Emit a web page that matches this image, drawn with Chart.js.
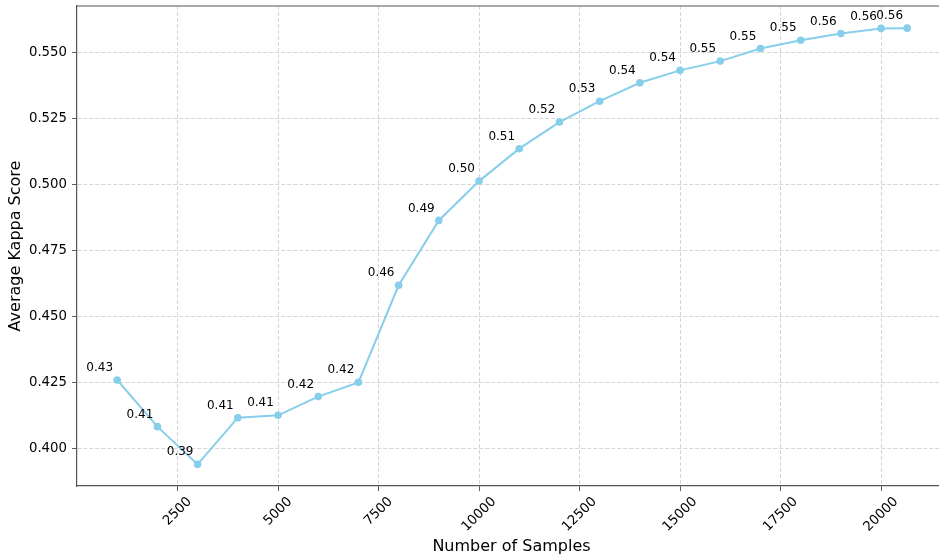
<!DOCTYPE html>
<html lang="en">
<head>
<meta charset="UTF-8">
<title>Kappa vs samples</title>
<script src="https://cdn.jsdelivr.net/npm/chart.js@4.4.1/dist/chart.umd.min.js"></script>
<style>
  html, body { margin: 0; padding: 0; overflow: hidden; background: #fff; }
  #wrap { width: 950px; height: 559px; }
</style>
</head>
<body>
<div id="wrap">
  <canvas id="kappaChart" width="950" height="559"></canvas>
</div>
<script>
// data
var samples = [1000, 2000, 3000, 4000, 5000, 6000, 7000, 8000, 9000, 10000,
               11000, 12000, 13000, 14000, 15000, 16000, 17000, 18000, 19000, 20000, 20650];
var kappa = [0.4259, 0.4082, 0.3939, 0.4116, 0.4125, 0.4196, 0.4250, 0.4618, 0.4864, 0.5013,
             0.5136, 0.5237, 0.5316, 0.5386, 0.5433, 0.5468, 0.5516, 0.5547, 0.5573, 0.5592, 0.5593];
var xTicks = [2500, 5000, 7500, 10000, 12500, 15000, 17500, 20000];
var yTicks = [0.400, 0.425, 0.450, 0.475, 0.500, 0.525, 0.550];

var FONT = "'DejaVu Sans', sans-serif";

// top spine, value labels and rotated x tick labels
var extras = {
    id: 'extras',
    afterDatasetsDraw: function (chart) {
        var ctx = chart.ctx;
        var meta = chart.getDatasetMeta(0);
        ctx.save();
        ctx.font = "12px " + FONT;
        ctx.fillStyle = '#000';
        ctx.textAlign = 'center';
        ctx.textBaseline = 'middle';
        meta.data.forEach(function (pt, i) {
            ctx.fillText(kappa[i].toFixed(2), pt.x - 17.5, pt.y - 12);
        });
        ctx.restore();
    },
    afterDraw: function (chart) {
        var ctx = chart.ctx;
        var a = chart.chartArea;
        ctx.save();
        ctx.strokeStyle = '#555';
        ctx.lineWidth = 1.2;
        ctx.beginPath();
        ctx.moveTo(a.left, a.top);
        ctx.lineTo(a.right, a.top);
        ctx.stroke();

        var xs = chart.scales.x;
        ctx.font = "13.3px " + FONT;
        ctx.fillStyle = '#000';
        ctx.textAlign = 'center';
        ctx.textBaseline = 'middle';
        xTicks.forEach(function (v) {
            var px = xs.getPixelForValue(v);
            var w = ctx.measureText(String(v)).width;
            var half = (w + 15.5) * Math.SQRT1_2 / 2;
            ctx.save();
            ctx.translate(px, xs.top + 8 + half);
            ctx.rotate(-Math.PI / 4);
            ctx.fillText(String(v), 0, 0);
            ctx.restore();
        });
        ctx.restore();
    }
};

var gridOpts = {
    color: '#cccccc',
    lineWidth: 0.8,
    tickLength: 5,
    tickColor: '#333'
};

new Chart(document.getElementById('kappaChart'), {
    type: 'line',
    data: {
        datasets: [{
            data: samples.map(function (s, i) { return { x: s, y: kappa[i] }; }),
            borderColor: '#87CEEB',
            backgroundColor: '#87CEEB',
            borderWidth: 2,
            pointRadius: 3.8,
            pointBorderWidth: 0,
            pointBackgroundColor: '#87CEEB',
            tension: 0,
            fill: false
        }]
    },
    options: {
        responsive: false,
        animation: false,
        layout: { padding: { left: 0, top: 6, right: 4, bottom: 0 } },
        plugins: {
            legend: { display: false },
            tooltip: { enabled: false }
        },
        scales: {
            x: {
                type: 'linear',
                min: 0,
                max: 21615,
                afterBuildTicks: function (s) { s.ticks = xTicks.map(function (v) { return { value: v }; }); },
                afterFit: function (s) { s.height = 73; s.paddingLeft = 0; s.paddingRight = 0; },
                ticks: { display: false },
                grid: gridOpts,
                border: { display: true, color: '#555', width: 1.2, dash: [4, 2] },
                title: {
                    display: true,
                    text: 'Number of Samples',
                    color: '#000',
                    font: { family: FONT, size: 16 },
                    padding: { top: 0, bottom: 3 }
                }
            },
            y: {
                min: 0.3857,
                max: 0.5677,
                afterBuildTicks: function (s) { s.ticks = yTicks.map(function (v) { return { value: v }; }); },
                afterFit: function (s) { s.width = 77; s.paddingTop = 0; s.paddingBottom = 0; },
                ticks: {
                    color: '#000',
                    font: { family: FONT, size: 13.3 },
                    padding: 5,
                    callback: function (v) { return Number(v).toFixed(3); }
                },
                grid: gridOpts,
                border: { display: true, color: '#555', width: 1.2, dash: [4, 2] },
                title: {
                    display: true,
                    text: 'Average Kappa Score',
                    color: '#000',
                    font: { family: FONT, size: 16 },
                    padding: { top: 6, bottom: 0 }
                }
            }
        }
    },
    plugins: [extras]
});
</script>
</body>
</html>
